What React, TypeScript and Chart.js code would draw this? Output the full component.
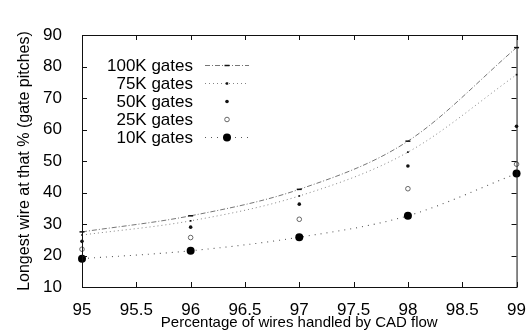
import React, { useEffect, useRef } from 'react';
import { Chart, registerables } from 'chart.js';

Chart.register(...registerables);

const percentages = [95, 96, 97, 98, 99];
const gates100K = [27.5, 32.6, 41, 56.3, 86];
const gates75K = [26.5, 31, 38.9, 52.8, 77.4];
const gates50K = [24.5, 29, 36.3, 48.4, 61];
const gates25K = [22, 25.7, 31.5, 41.2, 49];
const gates10K = [19, 21.5, 25.8, 32.6, 46];
const seriesLabels = ['100K gates', '75K gates', '50K gates', '25K gates', '10K gates'];
const xTitle = 'Percentage of wires handled by CAD flow';
const yTitle = 'Longest wire at that % (gate pitches)';

const FONT = "'Liberation Sans', Arial, Helvetica, sans-serif";

const toPoints = (vals: number[]) => percentages.map((x, i) => ({ x, y: vals[i] }));

const frameAndTicks = {
  id: 'frameAndTicks',
  afterDatasetsDraw(chart: any) {
    const { ctx, chartArea: a, scales } = chart;
    ctx.save();
    ctx.strokeStyle = '#111';
    ctx.lineWidth = 1;
    ctx.strokeRect(a.left + 0.5, a.top + 0.5, a.right - a.left, a.bottom - a.top);
    const len = 5;
    ctx.beginPath();
    scales.x.ticks.forEach((t: any) => {
      const px = Math.round(scales.x.getPixelForValue(t.value)) + 0.5;
      ctx.moveTo(px, a.bottom);
      ctx.lineTo(px, a.bottom - len);
      ctx.moveTo(px, a.top);
      ctx.lineTo(px, a.top + len);
    });
    scales.y.ticks.forEach((t: any) => {
      const py = Math.round(scales.y.getPixelForValue(t.value)) + 0.5;
      ctx.moveTo(a.left, py);
      ctx.lineTo(a.left + len, py);
      ctx.moveTo(a.right, py);
      ctx.lineTo(a.right - len, py);
    });
    ctx.stroke();
    ctx.restore();
  },
};

const legendPlugin = {
  id: 'customLegend',
  afterDraw(chart: any) {
    const { ctx } = chart;
    const textRight = 193;
    const x0 = 205;
    const x1 = 249;
    const mx = 227;
    ctx.save();
    chart.data.datasets.forEach((ds: any, i: number) => {
      const y = 65 + i * 18;
      ctx.font = `17px ${FONT}`;
      ctx.fillStyle = '#000';
      ctx.textAlign = 'right';
      ctx.textBaseline = 'middle';
      ctx.fillText(ds.label, textRight, y + 1);
      if (ds.showLine !== false) {
        ctx.strokeStyle = ds.borderColor;
        ctx.lineWidth = ds.borderWidth;
        ctx.setLineDash(ds.borderDash || []);
        ctx.beginPath();
        ctx.moveTo(x0, y + 0.5);
        ctx.lineTo(x1, y + 0.5);
        ctx.stroke();
        ctx.setLineDash([]);
      }
      const r = ds.pointRadius;
      ctx.fillStyle = ds.pointBackgroundColor;
      ctx.strokeStyle = ds.pointBorderColor;
      ctx.lineWidth = ds.pointBorderWidth;
      ctx.beginPath();
      if (ds.pointStyle === 'line') {
        ctx.moveTo(mx - r, y + 0.5);
        ctx.lineTo(mx + r, y + 0.5);
        ctx.stroke();
      } else if (ds.pointStyle === 'rect') {
        ctx.fillRect(mx - r, y - r + 0.5, 2 * r, 2 * r);
      } else {
        ctx.arc(mx, y + 0.5, r, 0, Math.PI * 2);
        ctx.fill();
        if (ds.pointBorderWidth > 0) ctx.stroke();
      }
    });
    ctx.restore();
  },
};

export default function App() {
  const ref = useRef<HTMLCanvasElement | null>(null);
  useEffect(() => {
    if (!ref.current) return;
    const chart = new Chart(ref.current, {
      type: 'line',
      data: {
        datasets: [
          {
            label: seriesLabels[0],
            data: toPoints(gates100K),
            borderColor: '#666',
            borderWidth: 0.9,
            borderDash: [5, 2, 1, 2],
            pointStyle: 'line',
            pointRadius: 2.5,
            pointBackgroundColor: '#111',
            pointBorderColor: '#111',
            pointBorderWidth: 1.5,
            cubicInterpolationMode: 'monotone',
            clip: false,
          },
          {
            label: seriesLabels[1],
            data: toPoints(gates75K),
            borderColor: '#777',
            borderWidth: 0.9,
            borderDash: [1, 3],
            pointStyle: 'rect',
            pointRadius: 1.2,
            pointBackgroundColor: '#111',
            pointBorderColor: '#111',
            pointBorderWidth: 0,
            cubicInterpolationMode: 'monotone',
            clip: false,
          },
          {
            label: seriesLabels[2],
            data: toPoints(gates50K),
            showLine: false,
            borderColor: '#111',
            borderWidth: 1,
            pointStyle: 'circle',
            pointRadius: 1.8,
            pointBackgroundColor: '#111',
            pointBorderColor: '#111',
            pointBorderWidth: 0,
            clip: false,
          },
          {
            label: seriesLabels[3],
            data: toPoints(gates25K),
            showLine: false,
            borderColor: '#666',
            borderWidth: 1,
            pointStyle: 'circle',
            pointRadius: 2.3,
            pointBackgroundColor: '#fff',
            pointBorderColor: '#666',
            pointBorderWidth: 1,
            clip: false,
          },
          {
            label: seriesLabels[4],
            data: toPoints(gates10K),
            borderColor: '#555',
            borderWidth: 1.1,
            borderDash: [1, 5],
            pointStyle: 'circle',
            pointRadius: 4,
            pointBackgroundColor: '#000',
            pointBorderColor: '#000',
            pointBorderWidth: 0,
            cubicInterpolationMode: 'monotone',
            clip: false,
          },
        ] as any,
      },
      options: {
        animation: false,
        responsive: false,
        devicePixelRatio: 1,
        layout: { padding: { left: 0, right: 10, top: 35, bottom: 0 } },
        plugins: { legend: { display: false }, tooltip: { enabled: false } },
        elements: { line: { fill: false } },
        scales: {
          x: {
            type: 'linear',
            min: 95,
            max: 99,
            ticks: {
              stepSize: 0.5,
              color: '#000',
              font: { family: FONT, size: 17 },
              padding: 5,
              maxRotation: 0,
              autoSkip: false,
              callback: (v: any) => String(v),
            },
            grid: { display: false },
            border: { display: false },
            title: {
              display: true,
              text: xTitle,
              color: '#000',
              font: { family: FONT, size: 15 },
              padding: { top: 0, bottom: 3 },
            },
            afterFit: (s: any) => {
              s.height = 48;
            },
          },
          y: {
            min: 10,
            max: 90,
            ticks: {
              stepSize: 10,
              color: '#000',
              font: { family: FONT, size: 17 },
              padding: 12,
            },
            grid: { display: false },
            border: { display: false },
            title: {
              display: true,
              text: yTitle,
              color: '#000',
              font: { family: FONT, size: 16 },
              padding: { top: 15, bottom: 0 },
            },
            afterFit: (s: any) => {
              s.width = 82;
            },
          },
        },
      },
      plugins: [frameAndTicks, legendPlugin],
    });
    return () => chart.destroy();
  }, []);
  return (
    <div style={{ position: 'absolute', left: 0, top: 0, width: 531, height: 335, background: '#fff' }}>
      <canvas ref={ref} width={531} height={335} style={{ display: 'block' }} />
    </div>
  );
}
